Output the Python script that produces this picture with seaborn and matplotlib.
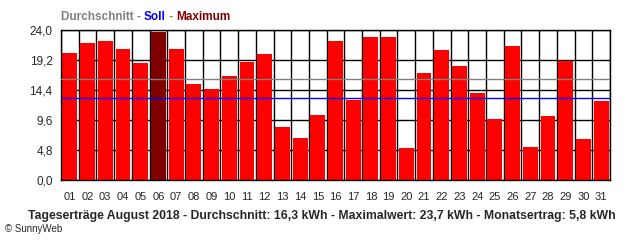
import numpy as np
import pandas as pd
import matplotlib
matplotlib.use("Agg")
import matplotlib.pyplot as plt
import seaborn as sns

days = [f"{d:02d}" for d in range(1, 32)]
values = [20.4, 22.0, 22.3, 21.0, 18.8, 23.7, 21.0, 15.4, 14.6, 16.7,
          18.9, 20.2, 8.5, 6.8, 10.4, 22.3, 12.8, 22.9, 22.9, 5.2,
          17.2, 20.8, 18.3, 14.0, 9.8, 21.5, 5.3, 10.3, 19.1, 6.6, 12.7]
avg_value = 16.2
soll_value = 13.1
y_ticks = [0.0, 4.8, 9.6, 14.4, 19.2, 24.0]
y_labels = ["0,0", "4,8", "9,6", "14,4", "19,2", "24,0"]
bottom_text = "Tageserträge August 2018 - Durchschnitt: 16,3 kWh - Maximalwert: 23,7 kWh - Monatsertrag: 5,8 kWh"

sns.set_style("white")
plt.rcParams["font.family"] = ["Liberation Sans", "DejaVu Sans"]

df = pd.DataFrame({"day": days, "value": values})
max_idx = int(np.argmax(values))
colors = ["#800000" if i == max_idx else "#ff0000" for i in range(len(days))]

fig = plt.figure(figsize=(6.4, 2.4), dpi=100)
ax = fig.add_axes([61/640, 60/240, 549/640, 150/240])

sns.barplot(data=df, x="day", y="value", hue="day", palette=colors, legend=False,
            width=0.84, linewidth=0, ax=ax, saturation=1)

ax.set_xlim(-0.5, len(days) - 0.5)
ax.set_ylim(0, 24)
ax.set_axisbelow(True)

# grid
ax.set_xticks(np.arange(len(days)))
ax.set_xticklabels(days)
ax.set_xticks(np.arange(len(days) + 1) - 0.5, minor=True)
ax.grid(True, which="minor", axis="x", color="black", linewidth=1.0)
ax.grid(True, which="major", axis="y", color="black", linewidth=1.0)
ax.grid(False, which="major", axis="x")
ax.tick_params(axis="x", which="major", length=0, pad=9, labelsize=8)
ax.tick_params(axis="x", which="minor", length=4, width=1.0, color="black", direction="out")
ax.set_yticks(y_ticks)
ax.set_yticklabels(y_labels)
ax.tick_params(axis="y", which="major", length=4, width=1.0, color="black",
               direction="out", labelsize=8.5, pad=2)
ax.set_xlabel("")
ax.set_ylabel("")
for s in ax.spines.values():
    s.set_color("black")
    s.set_linewidth(1.0)

ax.axhline(avg_value, color="#808080", linewidth=1.0, zorder=5)
ax.axhline(soll_value, color="#0000ff", linewidth=1.0, zorder=5)

# legend-like title
parts = [("Durchschnitt - ", "#808080"), ("Soll", "#0000ff"), (" - ", "#808080"), ("Maximum", "#800000")]
x = 61 / 640
renderer = fig.canvas.get_renderer()
for txt, col in parts:
    t = fig.text(x, 1 - 17/240, txt, color=col, fontsize=8.5, fontweight="bold", va="center", ha="left")
    bb = t.get_window_extent(renderer=renderer)
    x += bb.width / 640

fig.text(322/640, 1 - 216/240, bottom_text, fontsize=8.8, fontweight="bold", ha="center", va="center")
fig.text(5/640, 1 - 229/240, "© SunnyWeb", fontsize=7, ha="left", va="center")

fig.savefig("out.png", dpi=100)
